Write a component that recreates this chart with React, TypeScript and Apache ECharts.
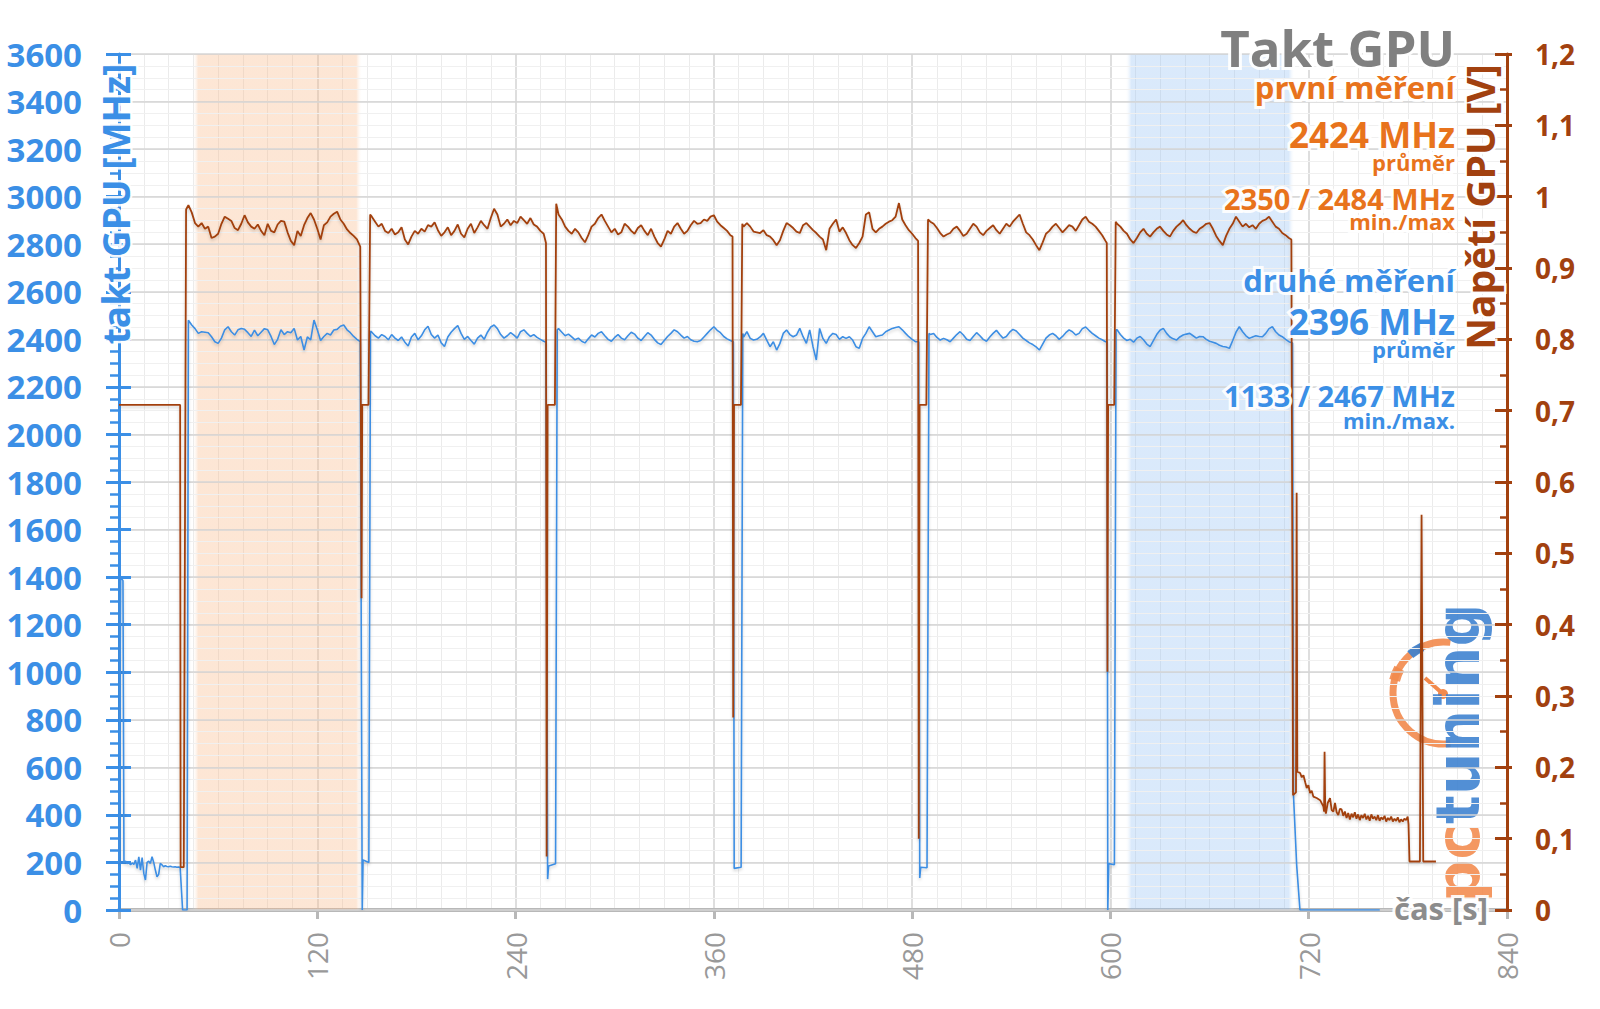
import React, { useEffect, useRef } from 'react';
import * as echarts from 'echarts';

// ---------- data ----------
// time axis [s], clock axis [MHz], voltage axis [V]
const RUN_STARTS = [42, 153, 266, 378, 491, 604];
const STEP = 2;

// blue: takt GPU (druhé měření) [MHz]
const BLUE_START: number[][] = [[0, 200], [1, 1400], [2.4, 1385]];
const BLUE_IDLE = [200, 205, 195, 200, 190, 198, 192, 210, 175, 224, 168, 220, 154, 126, 200, 205, 196, 224, 200, 168, 140, 150, 196, 190, 182, 186, 183, 182, 184, 182, 181, 182, 180, 181, 180];
const BLUE_GAP0: number[][] = [[38.5, 0], [41.2, 0]];
const BLUE_RUN1 = [2480, 2460, 2445, 2425, 2432, 2430, 2428, 2411, 2390, 2383, 2405, 2440, 2453, 2432, 2418, 2440, 2446, 2442, 2428, 2412, 2439, 2415, 2430, 2445, 2440, 2412, 2378, 2400, 2440, 2420, 2432, 2428, 2446, 2397, 2412, 2355, 2410, 2398, 2481, 2440, 2395, 2412, 2425, 2418, 2439, 2442, 2455, 2460, 2440, 2428, 2412, 2400, 2390];
const BLUE_GAP1: number[][] = [[147.2, 0], [147.7, 210], [151.2, 200], [152.2, 2435]];
const BLUE_RUN2 = [2430, 2415, 2405, 2420, 2412, 2398, 2420, 2405, 2395, 2410, 2388, 2372, 2410, 2425, 2398, 2415, 2440, 2455, 2420, 2405, 2418, 2385, 2370, 2410, 2430, 2445, 2458, 2425, 2400, 2412, 2395, 2380, 2405, 2418, 2400, 2430, 2452, 2460, 2445, 2420, 2405, 2415, 2428, 2418, 2405, 2432, 2440, 2425, 2412, 2420, 2408, 2400, 2392];
const BLUE_GAP2: number[][] = [[258.4, 2388], [259.4, 130], [260, 185], [264.2, 195], [265.2, 2440]];
const BLUE_RUN3 = [2445, 2430, 2415, 2422, 2410, 2398, 2405, 2392, 2385, 2402, 2418, 2410, 2425, 2432, 2415, 2400, 2392, 2408, 2420, 2405, 2398, 2415, 2430, 2422, 2405, 2395, 2412, 2428, 2418, 2400, 2385, 2378, 2395, 2412, 2425, 2440, 2432, 2418, 2405, 2412, 2398, 2392, 2390, 2395, 2410, 2425, 2440, 2453, 2438, 2428, 2412, 2402, 2395];
const BLUE_GAP3: number[][] = [[371.8, 2390], [372.3, 175], [376.5, 180], [377.5, 2425]];
const BLUE_RUN4 = [2410, 2432, 2404, 2397, 2400, 2410, 2425, 2397, 2369, 2390, 2355, 2383, 2425, 2439, 2420, 2411, 2418, 2446, 2411, 2383, 2440, 2369, 2313, 2446, 2404, 2383, 2411, 2425, 2420, 2400, 2411, 2404, 2411, 2397, 2369, 2362, 2404, 2425, 2453, 2432, 2411, 2415, 2418, 2432, 2439, 2446, 2450, 2453, 2440, 2425, 2411, 2400, 2390];
const BLUE_GAP4: number[][] = [[484, 2390], [484.6, 135], [485.2, 180], [489, 178], [490.2, 2425]];
const BLUE_RUN5 = [2420, 2425, 2408, 2397, 2404, 2398, 2390, 2405, 2420, 2432, 2418, 2400, 2395, 2412, 2428, 2415, 2400, 2392, 2410, 2425, 2438, 2420, 2405, 2412, 2430, 2442, 2435, 2420, 2405, 2395, 2385, 2378, 2368, 2355, 2380, 2405, 2418, 2425, 2415, 2400, 2412, 2428, 2440, 2432, 2418, 2425, 2445, 2452, 2438, 2425, 2415, 2405, 2398, 2390];
const BLUE_GAP5: number[][] = [[598, 2390], [598.4, 0], [599, 195], [602.4, 190], [603.4, 2440]];
const BLUE_RUN6 = [2440, 2420, 2405, 2395, 2400, 2388, 2405, 2412, 2398, 2380, 2369, 2395, 2420, 2438, 2446, 2425, 2410, 2402, 2397, 2410, 2418, 2422, 2425, 2415, 2405, 2412, 2411, 2400, 2392, 2388, 2383, 2375, 2370, 2368, 2362, 2395, 2430, 2453, 2432, 2415, 2404, 2410, 2415, 2412, 2411, 2425, 2445, 2453, 2432, 2418, 2411, 2400, 2390];
const BLUE_END: number[][] = [[710.2, 2385], [710.8, 480], [712.7, 190], [714.7, 0], [763, 0]];

// brown: napětí GPU [V]
const BROWN_START: number[][] = [[0, 0.708], [37, 0.708], [37.3, 0.06], [39.2, 0.06], [40.6, 0.982]];
const BROWN_RUN1 = [0.988, 0.978, 0.963, 0.958, 0.963, 0.955, 0.958, 0.942, 0.944, 0.948, 0.962, 0.972, 0.969, 0.966, 0.956, 0.953, 0.962, 0.974, 0.964, 0.958, 0.955, 0.961, 0.952, 0.946, 0.962, 0.952, 0.950, 0.961, 0.966, 0.965, 0.950, 0.938, 0.932, 0.952, 0.945, 0.960, 0.970, 0.977, 0.968, 0.955, 0.940, 0.960, 0.964, 0.972, 0.976, 0.979, 0.968, 0.962, 0.954, 0.949, 0.945, 0.940, 0.930];
const BROWN_GAP1: number[][] = [[146.8, 0.437], [147.2, 0.708], [151, 0.708], [152, 0.975]];
const BROWN_RUN2 = [0.972, 0.965, 0.958, 0.962, 0.952, 0.949, 0.955, 0.947, 0.950, 0.957, 0.940, 0.933, 0.944, 0.952, 0.948, 0.955, 0.951, 0.960, 0.958, 0.964, 0.953, 0.945, 0.950, 0.957, 0.946, 0.952, 0.961, 0.948, 0.943, 0.955, 0.962, 0.949, 0.957, 0.966, 0.960, 0.955, 0.970, 0.983, 0.975, 0.958, 0.962, 0.968, 0.960, 0.966, 0.963, 0.972, 0.967, 0.962, 0.970, 0.961, 0.958, 0.952, 0.948];
const BROWN_GAP2: number[][] = [[258.4, 0.935], [258.8, 0.075], [259.4, 0.708], [263.8, 0.708], [264.6, 0.99]];
const BROWN_RUN3 = [0.975, 0.968, 0.958, 0.952, 0.948, 0.955, 0.950, 0.942, 0.936, 0.946, 0.958, 0.962, 0.970, 0.975, 0.966, 0.958, 0.950, 0.955, 0.947, 0.950, 0.962, 0.958, 0.952, 0.948, 0.956, 0.960, 0.952, 0.946, 0.955, 0.944, 0.935, 0.930, 0.940, 0.952, 0.948, 0.958, 0.963, 0.955, 0.948, 0.952, 0.960, 0.966, 0.962, 0.963, 0.968, 0.966, 0.972, 0.974, 0.965, 0.960, 0.956, 0.952, 0.946];
const BROWN_GAP3: number[][] = [[371.3, 0.944], [371.7, 0.27], [372.2, 0.708], [376.4, 0.708], [377.2, 0.962]];
const BROWN_RUN4 = [0.958, 0.963, 0.958, 0.951, 0.950, 0.949, 0.953, 0.946, 0.944, 0.939, 0.932, 0.939, 0.952, 0.963, 0.960, 0.956, 0.951, 0.949, 0.960, 0.963, 0.958, 0.953, 0.949, 0.944, 0.940, 0.925, 0.955, 0.962, 0.968, 0.951, 0.957, 0.949, 0.939, 0.932, 0.928, 0.935, 0.944, 0.975, 0.978, 0.955, 0.950, 0.955, 0.958, 0.962, 0.965, 0.967, 0.972, 0.991, 0.968, 0.960, 0.953, 0.948, 0.942];
const BROWN_GAP4: number[][] = [[483.6, 0.938], [484, 0.10], [484.5, 0.708], [488.6, 0.708], [489.6, 0.968]];
const BROWN_RUN5 = [0.965, 0.962, 0.956, 0.949, 0.944, 0.947, 0.949, 0.955, 0.958, 0.952, 0.945, 0.948, 0.955, 0.962, 0.958, 0.950, 0.946, 0.952, 0.956, 0.960, 0.953, 0.948, 0.955, 0.962, 0.958, 0.965, 0.970, 0.975, 0.962, 0.950, 0.946, 0.940, 0.932, 0.925, 0.936, 0.948, 0.952, 0.958, 0.962, 0.956, 0.950, 0.955, 0.960, 0.958, 0.952, 0.960, 0.968, 0.972, 0.965, 0.962, 0.958, 0.952, 0.946, 0.938];
const BROWN_GAP5: number[][] = [[597.8, 0.935], [598.2, 0.334], [598.6, 0.708], [602.3, 0.708], [603.2, 0.965]];
const BROWN_RUN6 = [0.962, 0.958, 0.952, 0.948, 0.940, 0.935, 0.942, 0.950, 0.955, 0.948, 0.944, 0.950, 0.955, 0.958, 0.952, 0.947, 0.944, 0.952, 0.958, 0.962, 0.967, 0.960, 0.955, 0.951, 0.949, 0.955, 0.958, 0.962, 0.963, 0.955, 0.945, 0.938, 0.932, 0.945, 0.955, 0.962, 0.972, 0.965, 0.958, 0.962, 0.957, 0.960, 0.955, 0.962, 0.966, 0.968, 0.972, 0.965, 0.958, 0.955, 0.949, 0.946, 0.942];
const BROWN_TAIL: number[][] = [
  [709.5, 0.94], [710.5, 0.161], [712.3, 0.165], [712.7, 0.585], [713.1, 0.194],
  [714.8, 0.192], [715.8, 0.186], [716.8, 0.189], [718, 0.178], [718.8, 0.171], [719.8, 0.175],
  [720.8, 0.164], [721.8, 0.167], [722.8, 0.159], [724.8, 0.157], [726.9, 0.154], [728.9, 0.145],
  [729.3, 0.138], [729.6, 0.222], [730, 0.14], [730.4, 0.135], [731.5, 0.15], [732.9, 0.157],
  [733.9, 0.14], [734.9, 0.138], [735.9, 0.15], [736.9, 0.137], [737.9, 0.133], [738.9, 0.142],
  [739.9, 0.141], [740.9, 0.132], [741.9, 0.138], [742.9, 0.129], [743.9, 0.136], [744.9, 0.127],
  [745.9, 0.135], [746.9, 0.13], [747.9, 0.137], [748.9, 0.128], [749.9, 0.134], [750.9, 0.126],
  [751.9, 0.133], [752.9, 0.129], [753.9, 0.135], [754.9, 0.127], [755.9, 0.132], [756.9, 0.125],
  [757.9, 0.134], [758.9, 0.128], [759.9, 0.131], [760.9, 0.126], [761.9, 0.133], [762.9, 0.125],
  [763.9, 0.13], [764.9, 0.127], [765.9, 0.132], [766.9, 0.124], [767.9, 0.129], [768.9, 0.126],
  [769.9, 0.131], [770.9, 0.124], [771.9, 0.128], [772.9, 0.125], [773.9, 0.13], [774.9, 0.123],
  [775.9, 0.127], [776.9, 0.124], [777.9, 0.128], [778.9, 0.126], [779.9, 0.131], [780.4, 0.12],
  [781, 0.068], [787.3, 0.068], [788.3, 0.554], [789.3, 0.068], [797, 0.068],
];

// highlighted intervals [s]
const BANDS = [
  { from: 44.3, to: 147.2, color: 'rgba(249,186,138,0.36)' },
  { from: 609, to: 711.5, color: 'rgba(152,195,244,0.36)' },
];

// ---------- styling ----------
const BLUE = '#3b8fe6';
const BLUE_LINE = '#3d8ee3';
const BROWN = '#a2410f';
const ORANGE = '#e8731c';
const GRAY_TITLE = '#808080';
const FONT = '"Open Sans", "Noto Sans", sans-serif';

const seq = (start: number, step: number, vals: number[]) => vals.map((v, i) => [start + step * i, v]);

const blueData = [
  ...BLUE_START, ...seq(3, 1, BLUE_IDLE), ...BLUE_GAP0,
  ...seq(RUN_STARTS[0], STEP, BLUE_RUN1), ...BLUE_GAP1,
  ...seq(RUN_STARTS[1], STEP, BLUE_RUN2), ...BLUE_GAP2,
  ...seq(RUN_STARTS[2], STEP, BLUE_RUN3), ...BLUE_GAP3,
  ...seq(RUN_STARTS[3], STEP, BLUE_RUN4), ...BLUE_GAP4,
  ...seq(RUN_STARTS[4], STEP, BLUE_RUN5), ...BLUE_GAP5,
  ...seq(RUN_STARTS[5], STEP, BLUE_RUN6), ...BLUE_END,
];

const brownData = [
  ...BROWN_START,
  ...seq(RUN_STARTS[0], STEP, BROWN_RUN1), ...BROWN_GAP1,
  ...seq(RUN_STARTS[1], STEP, BROWN_RUN2), ...BROWN_GAP2,
  ...seq(RUN_STARTS[2], STEP, BROWN_RUN3), ...BROWN_GAP3,
  ...seq(RUN_STARTS[3], STEP, BROWN_RUN4), ...BROWN_GAP4,
  ...seq(RUN_STARTS[4], STEP, BROWN_RUN5), ...BROWN_GAP5,
  ...seq(RUN_STARTS[5], STEP, BROWN_RUN6), ...BROWN_TAIL,
];

function halo(x: number, y: number, text: string, color: string, size: number, opt: any = {}) {
  return {
    type: 'text', x, y, rotation: opt.rotation || 0, silent: true, z: 99,
    style: {
      text, fontSize: size, fontWeight: opt.weight || 'bold', fontFamily: opt.family || FONT,
      align: opt.align || 'right', verticalAlign: 'middle',
      fill: color, stroke: 'rgba(255,255,255,0.92)', lineWidth: opt.halo || 6,
    },
  };
}

function bandGradient(c: string) {
  return new echarts.graphic.LinearGradient(0, 0, 1, 0, [
    { offset: 0, color: 'rgba(255,255,255,0)' },
    { offset: 0.035, color: c },
    { offset: 0.965, color: c },
    { offset: 1, color: 'rgba(255,255,255,0)' },
  ]);
}

function buildOption(): any {
  const LOGO_O = '#f28a4c';
  const LOGO_B = '#3a7fcf';
  const graphics: any[] = [
    // logo gauge
    { type: 'arc', z: 1, silent: true, shape: { cx: 1444, cy: 693, r: 51, startAngle: Math.PI * 0.46, endAngle: Math.PI * 1.54, clockwise: true }, style: { stroke: LOGO_O, lineWidth: 7, fill: 'transparent', opacity: 0.9 } },
    { type: 'arc', z: 1, silent: true, shape: { cx: 1444, cy: 693, r: 51, startAngle: Math.PI * 1.08, endAngle: Math.PI * 1.16, clockwise: true }, style: { stroke: LOGO_O, lineWidth: 11, fill: 'transparent', opacity: 0.9 } },
    { type: 'arc', z: 1, silent: true, shape: { cx: 1444, cy: 693, r: 51, startAngle: Math.PI * 1.27, endAngle: Math.PI * 1.36, clockwise: true }, style: { stroke: LOGO_B, lineWidth: 9, fill: 'transparent', opacity: 0.9 } },
    { type: 'line', z: 1, silent: true, shape: { x1: 1425, y1: 678, x2: 1442, y2: 693 }, style: { stroke: LOGO_O, lineWidth: 4 } },
    { type: 'circle', z: 1, silent: true, shape: { cx: 1443, cy: 694, r: 5 }, style: { fill: LOGO_O } },
    {
      type: 'text', z: 1, silent: true, x: 1458, y: 753, rotation: Math.PI / 2,
      style: {
        text: '{o|pc}{b|tuning}', align: 'center', verticalAlign: 'middle', opacity: 0.88,
        rich: {
          o: { fill: LOGO_O, fontSize: 60, fontWeight: 'bold', fontFamily: '"DejaVu Sans", sans-serif' },
          b: { fill: LOGO_B, fontSize: 60, fontWeight: 'bold', fontFamily: '"DejaVu Sans", sans-serif' },
        },
      },
    },
    // title and summary
    halo(1455, 47, 'Takt GPU', GRAY_TITLE, 51),
    halo(1455, 87, 'první měření', ORANGE, 31),
    halo(1455, 134, '2424 MHz', ORANGE, 35),
    halo(1455, 162, 'průměr', ORANGE, 22),
    halo(1455, 198, '2350 / 2484 MHz', ORANGE, 29),
    halo(1455, 221, 'min./max', ORANGE, 22),
    halo(1455, 280, 'druhé měření', BLUE, 31),
    halo(1455, 321, '2396 MHz', BLUE, 35),
    halo(1455, 349, 'průměr', BLUE, 22),
    halo(1455, 395, '1133 / 2467 MHz', BLUE, 29),
    halo(1455, 420, 'min./max.', BLUE, 22),
    // axis names
    halo(115, 204, 'takt GPU [MHz]', BLUE, 37, { rotation: Math.PI / 2, align: 'center', halo: 5 }),
    halo(1479, 207, 'Napětí GPU [V]', BROWN, 39, { rotation: Math.PI / 2, align: 'center', halo: 5 }),
    halo(1488, 908, 'čas [s]', '#8c8c8c', 31, { halo: 6 }),
  ];

  return {
    animation: false,
    backgroundColor: '#ffffff',
    grid: { left: 119, right: 93, top: 54, bottom: 99, containLabel: false, outerBoundsMode: 'none' },
    xAxis: {
      type: 'value', min: 0, max: 840, interval: 120,
      axisLine: { show: true, onZero: false, lineStyle: { color: '#b8b8b8', width: 4 } },
      axisTick: { show: true, length: 9, lineStyle: { color: '#b8b8b8', width: 3 } },
      axisLabel: { rotate: 90, margin: 22, color: '#999999', fontSize: 28, fontFamily: FONT },
      splitLine: { show: true, lineStyle: { color: '#d3d3d3', width: 1.5 } },
      minorTick: { show: false, splitNumber: 8 },
      minorSplitLine: { show: true, lineStyle: { color: '#ebebeb', width: 1 } },
    },
    yAxis: [
      {
        type: 'value', position: 'left', min: 0, max: 3600, interval: 200, z: 2,
        axisLine: { show: true, onZero: false, lineStyle: { color: BLUE, width: 3 } },
        axisTick: { show: true, length: 13, lineStyle: { color: BLUE, width: 3 } },
        minorTick: { show: true, splitNumber: 4, length: 9, lineStyle: { color: BLUE, width: 2.5 } },
        axisLabel: { color: BLUE, fontSize: 33, fontWeight: 'bold', fontFamily: FONT, margin: 37, formatter: (v: number) => String(Math.round(v)) },
        splitLine: { show: true, lineStyle: { color: '#d6d6d6', width: 1.5 } },
        minorSplitLine: { show: true, lineStyle: { color: '#f0f0f0', width: 1 } },
      },
      {
        type: 'value', position: 'right', min: 0, max: 1.2, interval: 0.1, z: 2,
        axisLine: { show: true, onZero: false, lineStyle: { color: BROWN, width: 3 } },
        axisTick: { show: true, inside: true, length: 12, lineStyle: { color: BROWN, width: 3 } },
        minorTick: { show: true, splitNumber: 2, length: 7, lineStyle: { color: BROWN, width: 2.5 } },
        axisLabel: {
          color: BROWN, fontSize: 28, fontWeight: 'bold', fontFamily: FONT, margin: 28,
          formatter: (v: number) => String(Math.round(v * 10) / 10).replace('.', ','),
        },
        splitLine: { show: false },
      },
      {
        type: 'value', position: 'left', min: 0, max: 3600, interval: 200, z: 2,
        axisLine: { show: false },
        axisTick: { show: true, inside: true, length: 12, lineStyle: { color: BLUE, width: 3 } },
        axisLabel: { show: false }, splitLine: { show: false },
      },
      {
        type: 'value', position: 'left', min: 0, max: 3600, interval: 100, z: 0,
        axisLine: { show: false }, axisTick: { show: false }, axisLabel: { show: false },
        splitLine: { show: true, lineStyle: { color: '#e1e1e1', width: 1 } },
      },
      {
        type: 'value', position: 'right', min: 0, max: 1.2, interval: 0.1, z: 2,
        axisLine: { show: false },
        axisTick: { show: true, inside: false, length: 5, lineStyle: { color: BROWN, width: 3 } },
        axisLabel: { show: false }, splitLine: { show: false },
      },
    ],
    series: [
      {
        type: 'line', name: 'pásma', data: [], silent: true, z: 1,
        markArea: {
          silent: true,
          data: BANDS.map((b) => [{ xAxis: b.from, itemStyle: { color: bandGradient(b.color) } }, { xAxis: b.to }]),
        },
      },
      {
        type: 'line', name: 'takt GPU', yAxisIndex: 0, data: blueData, symbol: 'none', showSymbol: false, silent: true, z: 3,
        lineStyle: { color: BLUE_LINE, width: 1.6, shadowColor: 'rgba(0,0,0,0.18)', shadowBlur: 3, shadowOffsetY: 2 },
      },
      {
        type: 'line', name: 'napětí GPU', yAxisIndex: 1, data: brownData, symbol: 'none', showSymbol: false, silent: true, z: 4,
        lineStyle: { color: BROWN, width: 1.8, shadowColor: 'rgba(0,0,0,0.18)', shadowBlur: 3, shadowOffsetY: 2 },
      },
    ],
    graphic: { elements: graphics },
  };
}

export default function App() {
  const ref = useRef<HTMLDivElement>(null);
  useEffect(() => {
    const chart = echarts.init(ref.current as HTMLDivElement, null, { renderer: 'svg' });
    chart.setOption(buildOption());
    return () => chart.dispose();
  }, []);
  return (
    <div
      ref={ref}
      style={{ position: 'fixed', left: 0, top: 0, width: 1600, height: 1009, background: '#fff' }}
    />
  );
}
